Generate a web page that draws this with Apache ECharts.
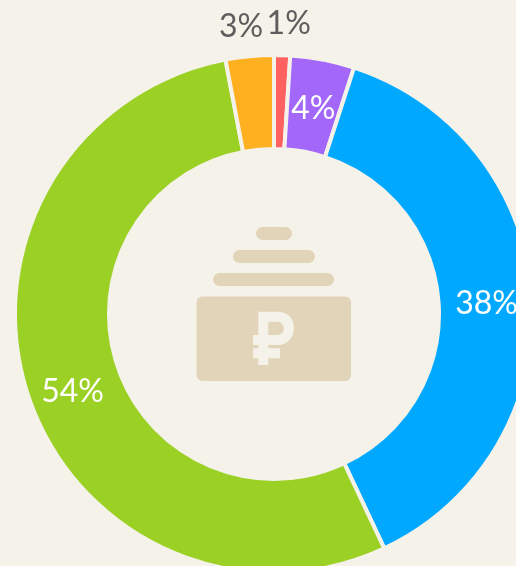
<!DOCTYPE html>
<html><head><meta charset="utf-8">
<style>html,body{margin:0;padding:0;background:#f5f2ea;overflow:hidden}#c{width:516px;height:566px}</style>
<script src="https://cdn.jsdelivr.net/npm/echarts@6/dist/echarts.min.js"></script>
</head><body><div id="c"></div>
<script>
const categories = ['Red','Purple','Blue','Green','Orange'];
const values = [1,4,38,54,3];
const colors = ['#ff6060','#a368fa','#00a9ff','#9bd025','#ffb020'];
const outsideLabels = ['Red','Orange'];
const bg = '#f5f2ea', icon = '#e1d4b8';
const nudges = {Red:[-46,-16], Purple:[-1,6], Blue:[-2,3], Green:[3,11], Orange:[45,-15]};
const rupee = 'M258.3 311.7 H278 C288 311.7 294 319 294 328.5 C294 338 287 345 278 345 H268.3 V348.3 H280 V358.3 H268.3 V365 H258.3 V358.3 H253 V348.3 H258.3 V345 H253 V335 H258.3 Z M268.3 321.7 V335 H277 C281 335 283.8 332.5 283.8 328.3 C283.8 324.2 281 321.7 277 321.7 Z';
echarts.graphic.registerShape('rupee', echarts.graphic.extendPath(rupee, {}));
const chart = echarts.init(document.getElementById('c'), null, {renderer:'canvas'});
chart.setOption({
  backgroundColor: bg,
  animation: false,
  series: [{
    type: 'pie',
    center: [274, 314],
    radius: [165, 259],
    startAngle: 90,
    clockwise: true,
    silent: true,
    avoidLabelOverlap: false,
    labelLine: {show:false},
    itemStyle: {borderColor: bg, borderWidth: 4},
    label: {position:'inside', color:'#fff', fontFamily:'Lato', fontSize:32, formatter:'{c}%'},
    labelLayout: p => ({dx: nudges[categories[p.dataIndex]][0], dy: nudges[categories[p.dataIndex]][1]}),
    data: categories.map((name,i)=>{
      const out = outsideLabels.includes(name);
      return {name, value:values[i], itemStyle:{color:colors[i]},
        label: out ? {position:'outside', color:'#5d5d5d', distanceToLabelLine:0} : {}};
    })
  }],
  graphic: [
    {type:'rect', shape:{x:196.5,y:296.5,width:154.5,height:84.5,r:6}, style:{fill:icon}},
    {type:'rect', shape:{x:213,y:273,width:121,height:13,r:6.5}, style:{fill:icon}},
    {type:'rect', shape:{x:233,y:250,width:82,height:13,r:6.5}, style:{fill:icon}},
    {type:'rect', shape:{x:256,y:227,width:36,height:13,r:6.5}, style:{fill:icon}},
    {type:'rupee', style:{fill:bg}}
  ]
});
</script></body></html>
